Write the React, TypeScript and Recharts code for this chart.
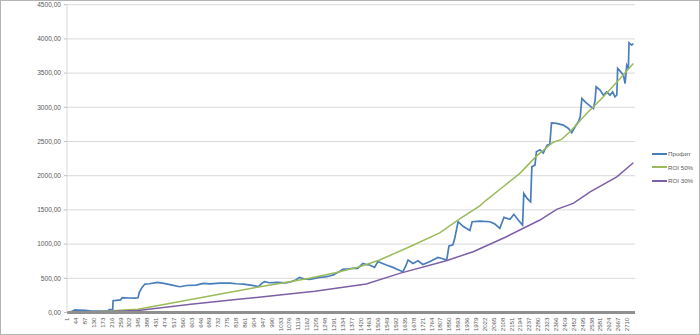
import React from 'react';
import { LineChart, Line, XAxis, YAxis, CartesianGrid, Legend } from 'recharts';

const xTickLabels = [
  1, 44, 87, 130, 173, 216, 259, 302, 345, 388, 431, 474, 517, 560, 603, 646,
  689, 732, 775, 818, 861, 904, 947, 990, 1033, 1076, 1119, 1162, 1205, 1248,
  1291, 1334, 1377, 1420, 1463, 1506, 1549, 1592, 1635, 1678, 1721, 1764, 1807,
  1850, 1893, 1936, 1979, 2022, 2065, 2108, 2151, 2194, 2237, 2280, 2323, 2366,
  2409, 2452, 2495, 2538, 2581, 2624, 2667, 2710,
];
const yTicks = [0, 500, 1000, 1500, 2000, 2500, 3000, 3500, 4000, 4500];

const profitIdx = [
  1, 20, 40, 60, 90, 120, 160, 200, 205, 222, 224, 240, 260, 268, 300, 330, 345,
  350, 365, 378, 400, 439, 470, 510, 547, 580, 626, 660, 693, 740, 790, 820, 854,
  890, 927, 945, 956, 980, 1020, 1060, 1085, 1110, 1126, 1150, 1174, 1200, 1222,
  1250, 1271, 1290, 1303, 1320, 1335, 1368, 1390, 1408, 1432, 1450, 1465, 1489,
  1505, 1525, 1546, 1578, 1600, 1626, 1640, 1651, 1675, 1699, 1723, 1755, 1796,
  1815, 1838, 1849, 1868, 1877, 1893, 1917, 1950, 1961, 1998, 2047, 2071, 2095,
  2115, 2144, 2163, 2184, 2205, 2211, 2227, 2244, 2250, 2265, 2272, 2289, 2305,
  2324, 2337, 2345, 2370, 2402, 2427, 2443, 2459, 2475, 2484, 2492, 2508, 2532,
  2548, 2556, 2561, 2580, 2596, 2612, 2628, 2641, 2652, 2661, 2665, 2680, 2693,
  2701, 2709, 2717, 2720, 2733, 2741,
];
const profitVal = [
  0, 10, 38, 35, 30, 22, 20, 22, 42, 45, 173, 178, 185, 216, 212, 210, 215,
  290, 370, 416, 420, 441, 425, 400, 377, 395, 400, 425, 418, 430, 430, 420, 416,
  400, 380, 430, 450, 435, 440, 432, 450, 480, 514, 490, 485, 500, 514,
  520, 533, 550, 572, 600, 631, 640, 650, 645, 718, 700, 694, 660,
  745, 720, 694, 660, 630, 596, 680, 767, 718, 757, 703, 742, 806,
  790, 767, 972, 990, 1084, 1327, 1260, 1200, 1327, 1335, 1327, 1293, 1230,
  1391, 1362, 1435, 1352, 1278, 1741, 1668, 1619, 2130, 2155, 2350, 2380, 2330,
  2447, 2460, 2773, 2765, 2740, 2691, 2628, 2715, 2788, 2861, 3130, 3080, 3017,
  2983, 3105, 3300, 3251, 3178, 3226, 3178, 3226, 3153, 3180, 3568, 3518, 3470,
  3348, 3616, 3568, 3942, 3908, 3933,
];

const roi50Idx = [
  1, 100, 190, 280, 345, 450, 600, 750, 935, 1050, 1174, 1300, 1416, 1513, 1659,
  1804, 1901, 1998, 2030, 2111, 2192, 2273, 2353, 2394, 2434, 2515, 2596, 2677, 2741,
];
const roi50Val = [
  0, 10, 20, 35, 47, 105, 190, 275, 377, 435, 500, 580, 669, 767, 961,
  1165, 1370, 1560, 1644, 1838, 2034, 2290, 2490, 2531, 2642, 2910, 3153, 3421, 3641,
];

const roi30Idx = [
  1, 200, 345, 600, 830, 951, 1200, 1449, 1610, 1836, 1966, 2127, 2289, 2370,
  2450, 2532, 2661, 2741,
];
const roi30Val = [
  0, 15, 30, 120, 192, 231, 310, 416, 572, 757, 889, 1108, 1352, 1508,
  1595, 1765, 1984, 2189,
];

const seriesNames = ['Профит', 'ROI 50%', 'ROI 30%'];
const seriesColors = ['#4A7EBB', '#9BBB59', '#7D5FA5'];

const profitData = profitIdx.map((x, i) => ({ x, y: profitVal[i] }));
const roi50Data = roi50Idx.map((x, i) => ({ x, y: roi50Val[i] }));
const roi30Data = roi30Idx.map((x, i) => ({ x, y: roi30Val[i] }));

const FONT = "'Liberation Sans', Arial, sans-serif";
const TEXT = '#595959';

const XTick = (props: any) => {
  const { x, y, payload } = props;
  return (
    <text
      x={0}
      y={0}
      transform={`translate(${x + 2.2},${y}) rotate(-90)`}
      textAnchor="end"
      fontSize={6.2}
      fill={TEXT}
      fontFamily={FONT}
    >
      {payload.value}
    </text>
  );
};

const fmtY = (v: number) => v.toFixed(2).replace('.', ',');

const renderLegend = () => (
  <div style={{ fontFamily: FONT, fontSize: 6.2, color: TEXT }}>
    {seriesNames.map((n, i) => (
      <div key={n} style={{ display: 'flex', alignItems: 'center', height: 13.3 }}>
        <span
          style={{
            display: 'inline-block',
            width: 15,
            height: 2,
            background: seriesColors[i],
            marginRight: 1,
          }}
        />
        <span>{n}</span>
      </div>
    ))}
  </div>
);

export default function App() {
  return (
    <div style={{ position: 'absolute', left: 0, top: 0, width: 700, height: 335, background: '#fff' }}>
      <LineChart
        width={700}
        height={335}
        margin={{ top: 4.7, right: 65, bottom: 2.5, left: 0 }}
      >
        <CartesianGrid vertical={false} stroke="#d9d9d9" strokeWidth={1} />
        <XAxis
          dataKey="x"
          type="number"
          domain={[1, 2749]}
          allowDataOverflow
          ticks={xTickLabels}
          interval={0}
          tick={<XTick />}
          tickLine={false}
          tickSize={3}
          tickMargin={2}
          height={20}
          axisLine={{ stroke: '#8f8f8f', strokeWidth: 3 }}
        />
        <YAxis
          type="number"
          domain={[0, 4500]}
          ticks={yTicks}
          interval={0}
          width={67}
          tickFormatter={fmtY}
          tickSize={3}
          tickMargin={3}
          tickLine={{ stroke: '#bfbfbf' }}
          axisLine={{ stroke: '#d9d9d9' }}
          tick={{ fontSize: 6.6, fill: TEXT, fontFamily: FONT }}
        />
        <Legend
          layout="horizontal"
          verticalAlign="middle"
          align="center"
          content={renderLegend}
          wrapperStyle={{ position: 'absolute', left: 652, top: 147.3, width: 48, height: 40 }}
        />
        <Line
          data={profitData}
          dataKey="y"
          name={seriesNames[0]}
          type="linear"
          stroke={seriesColors[0]}
          strokeWidth={1.7}
          dot={false}
          activeDot={false}
          isAnimationActive={false}
        />
        <Line
          data={roi50Data}
          dataKey="y"
          name={seriesNames[1]}
          type="linear"
          stroke={seriesColors[1]}
          strokeWidth={1.5}
          dot={false}
          activeDot={false}
          isAnimationActive={false}
        />
        <Line
          data={roi30Data}
          dataKey="y"
          name={seriesNames[2]}
          type="linear"
          stroke={seriesColors[2]}
          strokeWidth={1.5}
          dot={false}
          activeDot={false}
          isAnimationActive={false}
        />
      </LineChart>
      <div
        style={{
          position: 'absolute',
          left: 0,
          top: 0,
          width: 700,
          height: 335,
          boxSizing: 'border-box',
          border: '1px solid #b4b4b4',
          pointerEvents: 'none',
        }}
      />
    </div>
  );
}
